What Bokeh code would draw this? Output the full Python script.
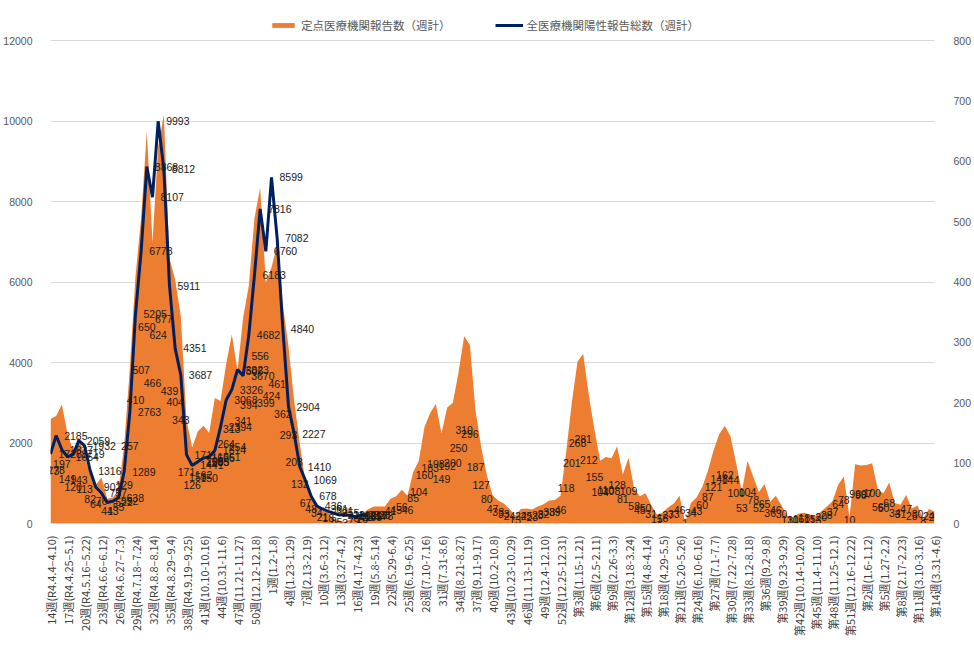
import math
from bokeh.plotting import figure
from bokeh.models import Range1d, LinearAxis, FixedTicker, Legend, LegendItem, ColumnDataSource
from bokeh.core.properties import value
from bokeh.embed import file_html
from bokeh.resources import INLINE

# x-axis tick labels (every 3rd week)
tick_labels = [
    "14週(R4.4.4–4.10)", "17週(R4.4.25–5.1)", "20週(R4.5.16–5.22)", "23週(R4.6.6–6.12)",
    "26週(R4.6.27–7.3)", "29週(R4.7.18–7.24)", "32週(R4.8.8–8.14)", "35週(R4.8.29–9.4)",
    "38週(R4.9.19–9.25)", "41週(10.10-10.16)", "44週(10.31-11.6)", "47週(11.21-11.27)",
    "50週(12.12-12.18)", "1週(1.2-1.8)", "4週(1.23-1.29)", "7週(2.13-2.19)", "10週(3.6-3.12)",
    "13週(3.27-4.2)", "16週(4.17-4.23)", "19週(5.8-5.14)", "22週(5.29-6.4)", "25週(6.19-6.25)",
    "28週(7.10-7.16)", "31週(7.31-8.6)", "34週(8.21-8.27)", "37週(9.11-9.17)", "40週(10.2-10.8)",
    "43週(10.23-10.29)", "46週(11.13-11.19)", "49週(12.4-12.10)", "52週(12.25-12.31)",
    "第3週(1.15-1.21)", "第6週(2.5-2.11)", "第9週(2.26-3.3)", "第12週(3.18-3.24)",
    "第15週(4.8-4.14)", "第18週(4.29-5.5)", "第21週(5.20-5.26)", "第24週(6.10-6.16)",
    "第27週(7.1-7.7)", "第30週(7.22-7.28)", "第33週(8.12-8.18)", "第36週(9.2-9.8)",
    "第39週(9.23-9.29)", "第42週(10.14-10.20)", "第45週(11.4-11.10)", "第48週(11.25-12.1)",
    "第51週(12.16-12.22)", "第2週(1.6-1.12)", "第5週(1.27-2.2)", "第8週(2.17-2.23)",
    "第11週(3.10-3.16)", "第14週(3.31-4.6)",
]

# 定点医療機関報告数（週計） - right axis
sentinel = [
    173, 178, 197, 149, 120, 143, 113, 82, 64, 76,
    41, 43, 55, 129, 257, 410, 507, 650, 466, 624,
    677, 439, 404, 343, 171, 126, 153, 162, 150, 208,
    203, 264, 313, 254, 341, 394, 506, 556, 399, 424,
    461, 362, 293, 203, 132, 67, 48, 34, 21, 18,
    8, 5, 3, 7, 9, 16, 23, 28, 28, 28,
    41, 45, 56, 46, 85, 104, 160, 183, 198, 149,
    192, 200, 250, 310, 296, 187, 127, 80, 47, 38,
    33, 24, 13, 24, 25, 23, 28, 32, 38, 39,
    46, 118, 201, 268, 281, 212, 155, 104, 110, 108,
    128, 81, 109, 58, 45, 50, 31, 15, 18, 27,
    33, 46, 1, 34, 43, 60, 87, 121, 148, 162,
    144, 100, 53, 104, 78, 52, 65, 36, 46, 30,
    13, 10, 16, 18, 15, 13, 20, 28, 37, 64,
    78, 10, 98, 96, 97, 100, 56, 50, 68, 34,
    31, 47, 25, 30, 8, 24, 20,
]

# 全医療機関陽性報告総数（週計） - left axis
all_reports = [
    1728, 2185, 1837, 1654, 1719, 2059, 1932, 1316, 902, 757,
    522, 552, 638, 1289, 2763, 5205, 6778, 8868, 8107, 9993,
    8812, 5911, 4351, 3687, 1711, 1441, 1535, 1625, 1661, 1814,
    2394, 3068, 3326, 3823, 3670, 4682, 6183, 7816, 6760, 8599,
    7082, 4840, 2904, 2227, 1410, 1069, 678, 436, 361, 301,
    255, 211, 221, 193, 165, 218, 178,
]

LEFT_MAX, RIGHT_MAX = 12000, 800
# frame extends above the top gridline so the legend can sit inside it
FRAME_TOP, FRAME_BOTTOM, GRID_TOP = 10, 523, 40
k = (FRAME_BOTTOM - FRAME_TOP) / (FRAME_BOTTOM - GRID_TOP)

n = len(sentinel)
xs = list(range(n))
xl = list(range(len(all_reports)))

src_area = ColumnDataSource(dict(x=xs, y=sentinel, yh=[v / 2 for v in sentinel],
                                 t=[str(v) for v in sentinel]))
src_line = ColumnDataSource(dict(x=xl, y=all_reports, t=[str(v) for v in all_reports]))

p = figure(width=974, height=654, output_backend="svg", toolbar_location=None,
           x_range=Range1d(0, n - 1), y_range=Range1d(0, LEFT_MAX * k),
           min_border_left=46, min_border_right=34, min_border_top=FRAME_TOP,
           min_border_bottom=654 - FRAME_BOTTOM,
           background_fill_color="white", border_fill_color="white")
p.outline_line_color = None
p.extra_y_ranges = {"right": Range1d(0, RIGHT_MAX * k)}

AX_COLOR = "#595959"
# left axis
ya = p.yaxis[0]
ya.ticker = FixedTicker(ticks=list(range(0, LEFT_MAX + 1, 2000)))
ya.axis_line_color = None
ya.major_tick_line_color = None
ya.minor_tick_line_color = None
ya.major_label_standoff = 12
ya.major_label_text_font = "Liberation Sans"
ya.major_label_text_font_size = "10.5px"
ya.major_label_text_color = AX_COLOR

# right axis
ra = LinearAxis(y_range_name="right", ticker=FixedTicker(ticks=list(range(0, RIGHT_MAX + 1, 100))))
ra.axis_line_color = None
ra.major_tick_line_color = None
ra.minor_tick_line_color = None
ra.major_label_standoff = 13
ra.major_label_text_font = "Liberation Sans"
ra.major_label_text_font_size = "10.5px"
ra.major_label_text_color = AX_COLOR
p.add_layout(ra, "right")

# x axis
xa = p.xaxis[0]
tick_pos = list(range(0, n, 3))
xa.ticker = FixedTicker(ticks=tick_pos)
xa.major_label_overrides = {i: lab for i, lab in zip(tick_pos, tick_labels)}
xa.major_label_orientation = math.pi / 2
xa.axis_line_color = "#d9d9d9"
xa.major_tick_line_color = None
xa.minor_tick_line_color = None
xa.major_label_standoff = 6
xa.major_label_text_font = "Noto Sans CJK JP"
xa.major_label_text_font_size = "11px"
xa.major_label_text_color = "#404040"

p.xgrid.grid_line_color = None
p.ygrid.grid_line_color = "#d9d9d9"
p.ygrid.ticker = FixedTicker(ticks=list(range(0, LEFT_MAX + 1, 2000)))

area_r = p.varea(x="x", y1=0, y2="y", source=src_area, y_range_name="right",
                 fill_color="#ED7D31", fill_alpha=1.0)
line_r = p.line(x="x", y="y", source=src_line, line_color="#002060", line_width=3)

LBL = "#1a1a1a"
p.text(x="x", y="yh", text="t", source=src_area, y_range_name="right",
       text_font=value("Liberation Sans"), text_font_size="10.5px", text_color=LBL,
       text_align="center", text_baseline="middle")
p.text(x="x", y="y", text="t", source=src_line, x_offset=8,
       text_font=value("Liberation Sans"), text_font_size="10.5px", text_color=LBL,
       text_align="left", text_baseline="middle")

legend = Legend(items=[LegendItem(label="定点医療機関報告数（週計）", renderers=[area_r]),
                       LegendItem(label="全医療機関陽性報告総数（週計）", renderers=[line_r])],
                orientation="horizontal", location=(219, FRAME_BOTTOM - 33))
legend.border_line_color = None
legend.background_fill_alpha = 0
legend.padding = 0
legend.margin = 0
legend.spacing = 44
legend.label_standoff = 4
legend.glyph_width = 28
legend.glyph_height = 6
legend.label_height = 14
legend.label_text_font = "Noto Sans CJK JP"
legend.label_text_font_size = "11.5px"
legend.label_text_color = AX_COLOR
legend.label_text_baseline = "middle"
p.add_layout(legend)

open("out.html", "w").write(file_html(p, INLINE))
